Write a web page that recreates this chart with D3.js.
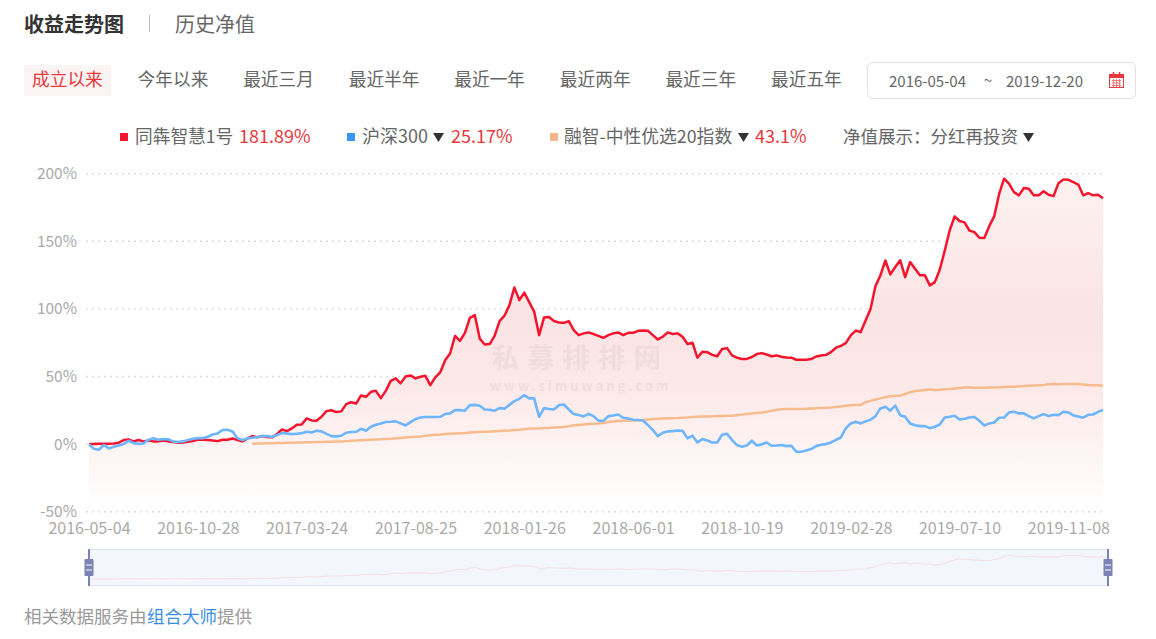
<!DOCTYPE html>
<html><head><meta charset="utf-8">
<script src="https://cdn.jsdelivr.net/npm/d3@7/dist/d3.min.js"></script>
<style>html,body{margin:0;padding:0;background:#fff;overflow:hidden}svg{display:block}text{font-family:"Noto Sans CJK SC","Noto Sans",sans-serif}</style>
</head><body><svg id="c" width="1156" height="639"></svg>
<script>
const navLabels=["成立以来","今年以来","最近三月","最近半年","最近一年","最近两年","最近三年","最近五年"];
const xTickLabels=["2016-05-04","2016-10-28","2017-03-24","2017-08-25","2018-01-26","2018-06-01","2018-10-19","2019-02-28","2019-07-10","2019-11-08"];
const yTickValues=[-50,0,50,100,150,200];
const fundName="同犇智慧1号", indexName="沪深300", blendName="融智-中性优选20指数";
const fundReturn="181.89%", indexReturn="25.17%", blendReturn="43.1%";
const fundValues=[0,0,0.3,0.3,0.3,0.5,1,3,3.5,2,
3,2,2.7,2,2,2.7,2,1.5,1,1.2,
1.7,2.2,3.4,3.2,3,2.7,2.2,3.2,3.2,4.2,
3,2,4,6,5,6,5.2,5,7.4,10.8,
9.6,11.6,14.3,14.5,19,17.5,17.3,20.2,24.4,25,
23.7,24.2,29.6,31,30,36,35,38.7,39.4,34,
39.4,46.8,48.6,44.9,50,50.8,48.6,49.8,50.5,43.6,
49.3,53,62,67,80,76.4,82.3,93.4,95.4,78,
73.7,74,80,91,95,102.8,115.9,106.5,112,105,
98,80.6,93.7,94,91,90,89.7,91,84.3,80.6,
81.9,82.6,81.4,80,78.6,80.6,81.9,82.6,80.6,82.3,
82.3,83.8,84,83.8,80.6,77.4,79.4,82.6,81.4,81.9,
79.4,74,75,64,68.3,68,66,65,70.3,71,
65.6,63.9,63,63,64.4,66.6,67.3,66.3,65,65.6,
64.6,64,63.9,62.4,62.4,62.4,62.9,64.8,65.6,66,
68,71.3,72.7,74.7,80.4,84,82.8,91.5,100,117,
124.8,135.8,125.5,131,136,123.5,134.6,129.7,124.8,124.8,
117.4,119.8,129,143,158,168.4,165,164,158,156.8,
152.6,152.4,161.2,168.4,185,196.3,192.6,186.4,184,189.4,
188.9,184,184,187,184.4,183.4,193,195.8,195.5,193.8,
192,184,185.6,184,184.4,181.9];
const indexValues=[0,-3.5,-4.2,-0.7,-3.2,-2,-1,0,2.5,0.7,
0.2,0.5,3,4.4,3.2,3.7,3.6,2,1.5,2,
3,4,4.4,4.4,5.4,7.1,7.9,10.4,10.6,9.4,
4.4,3,4.2,4.7,5.2,5.9,5.9,5.4,6.7,8.1,
7.9,7.4,7.6,8.1,9.1,8.6,9.9,9.4,7.6,5.9,
5.7,6.2,8.4,8.9,9.1,11.3,9.9,12.8,14.3,15.3,
16.3,16.5,16.8,15.3,13.8,16.3,18.5,19.7,20,20,
20,20.2,22.2,22.7,25.1,25.1,24.7,28.8,29,28.4,
25.6,25.4,24.7,26.6,26.1,29,31.8,33.5,36.2,33.8,
33.8,20.2,26.6,26,25.6,28.8,29.3,25.6,22.2,21.5,
20.5,22.4,20.7,17.3,17.3,20.7,21.2,21.9,19.5,19,
18,17.8,17.5,14,10.4,5.9,8.4,9.4,9.6,10.1,
9.9,4.2,6.2,1.2,3.7,2.7,1.2,1.2,6.9,7.6,
3,-0.7,-2,-1,2.5,-1,-0.2,1.2,-1.2,-1,
-0.7,-1.5,-1.2,-5.7,-5.7,-4.7,-3.7,-1.5,-0.5,0,
1.2,3.2,4.9,11.6,15.3,16.5,15.3,16.8,18,20.7,
26.4,27.6,24.7,28.4,21.4,20.2,15.3,14,13.3,13.3,
11.8,12.8,14.5,19.7,20.2,21,18.2,18.7,19.7,20,
17.3,13.8,15.3,16,19.5,19.7,23.4,23.9,22.7,22.7,
20.7,19,20.7,22.2,20.7,21.7,21.4,23.9,23.4,21.2,
20.5,19.5,21.7,21.9,23.9,25.17];
const blendStartIndex=33;
const blendValues=[0.3,0.4,0.5,0.6,0.7,0.8,0.9,1,1,1.1,
1.2,1.3,1.4,1.5,1.6,1.7,1.8,1.9,2,2.2,
2.4,2.6,2.8,3,3.2,3.4,3.5,
3.8,4,4.3,4.6,4.9,5.2,5.4,5.7,6.1,6.5,6.9,
7.1,7.4,7.6,7.8,8,8.2,8.5,8.7,8.9,9.1,
9.2,9.5,9.6,9.8,10,10.4,10.6,11,11.3,11.6,
11.7,11.9,12,12.2,12.4,12.6,13.2,13.9,14.2,14.5,
14.8,15.1,15.3,15.6,16.3,16.7,17,17.2,17.3,17.4,
17.6,17.8,18.2,18.5,18.8,19,19.1,19.2,19.3,19.5,
19.7,20,20.2,20.4,20.5,20.6,20.7,20.8,20.9,21,
21.4,21.8,22.2,22.6,23,23.4,24,24.6,25.4,25.8,
25.9,25.9,25.9,26,26.2,26.4,26.5,26.7,26.9,27,
27.4,27.8,28.4,28.7,28.9,29,31,32,33,33.8,
34.6,35.4,35.8,36,37,38.4,39.2,39.6,40,40.4,
40,40.2,40.5,40.8,41.2,41.5,41.8,41.9,41.7,41.6,
41.7,41.8,41.9,42.1,42.3,42.4,42.5,42.7,42.9,43.2,
43.4,43.6,43.8,44.2,44.4,44.3,44.4,44.4,44.4,44.4,
44,43.7,43.6,43.5,43.1];

const svg=d3.select("#c");
const txt=(x,y,s,size,fill,opt={})=>svg.append("text").attr("x",x).attr("y",y-2).attr("font-size",size).attr("fill",fill).attr("dominant-baseline","central").attr("text-anchor",opt.anchor||"start").attr("font-weight",opt.weight||400).text(s);
const tri=(x,y)=>svg.append("path").attr("d",`M${x},${y-4}h11l-5.5,9z`).attr("fill","#333");

// header
txt(24,25,"收益走势图",20,"#333",{weight:700});
svg.append("rect").attr("x",149).attr("y",15).attr("width",1).attr("height",17).attr("fill","#bbb");
txt(175,25,"历史净值",20,"#666");
svg.append("rect").attr("x",24).attr("y",65).attr("width",87).attr("height",31).attr("rx",2).attr("fill","#fbf4f4");
const navX=d3.scalePoint().domain(navLabels).range([32,771]);
navLabels.forEach((n,i)=>txt(navX(n),80,n,17.7,i===0?"#e8383c":"#666"));
svg.append("rect").attr("x",867.5).attr("y",62.5).attr("width",268).attr("height",36).attr("rx",5).attr("fill","#fff").attr("stroke","#dfe0ea");
txt(927.5,82,"2016-05-04",15,"#666",{anchor:"middle"});
txt(988,81,"~",15,"#666",{anchor:"middle"});
txt(1044.5,82,"2019-12-20",15,"#666",{anchor:"middle"});
// calendar icon
const cal=svg.append("g").attr("fill","none").attr("stroke","#e8383c");
cal.append("rect").attr("x",1109.5).attr("y",74.5).attr("width",14).attr("height",13);
cal.append("rect").attr("x",1109.5).attr("y",74.5).attr("width",14).attr("height",3).attr("fill","#e8383c");
cal.append("path").attr("d","M1113.5,72v3M1119.5,72v3").attr("stroke-width",1.5);
cal.append("path").attr("d","M1112,80.5h9M1112,83h9M1112,85.5h9M1113.5,79v8M1116.5,79v8M1119.5,79v8").attr("stroke-width",1).attr("stroke","#ee7a7d");

// legend
const sq=(x,c)=>svg.append("rect").attr("x",x).attr("y",133).attr("width",8).attr("height",8).attr("fill",c);
sq(120,"#f5142e"); txt(135,137,fundName,17.7,"#666"); txt(239,137,fundReturn,18,"#e8383c");
sq(347,"#3a96f5"); txt(362,137,indexName,18,"#666"); tri(433,137); txt(451,137,indexReturn,18,"#e8383c");
sq(550,"#f4b68a"); txt(564,137,blendName,17.8,"#666"); tri(738,137); txt(755,137,blendReturn,18,"#e8383c");
txt(843,137,"净值展示：分红再投资",17.5,"#666"); tri(1023,137);

// scales
const n=fundValues.length;
const x=d3.scaleLinear().domain([0,n-1]).range([89,1103]);
const y=d3.scaleLinear().domain([-50,200]).range([511.7,173.7]);

// gradient
const defs=svg.append("defs");
const g=defs.append("linearGradient").attr("id","fill").attr("gradientUnits","userSpaceOnUse").attr("x1",0).attr("x2",0).attr("y1",y(200)).attr("y2",y(-47));
[[0,"#fcf2f1"],[0.42,"#fae4e3"],[0.62,"#fbe8e7"],[0.8,"#fdf2f1"],[1,"#ffffff"]].forEach(s=>g.append("stop").attr("offset",s[0]).attr("stop-color",s[1]));

// grid + y axis
const yAxis=d3.axisLeft(y).tickValues(yTickValues).tickFormat(d=>d+"%").tickSize(0).tickPadding(0);
const yG=svg.append("g").attr("transform","translate(77,-2)").call(yAxis);
yG.select(".domain").remove();
yG.selectAll("text").attr("font-size",15.5).attr("fill","#aaa").attr("dy",0).attr("dominant-baseline","central");
svg.append("g").selectAll("line").data(yTickValues).join("line")
 .attr("x1",86).attr("x2",1104).attr("y1",d=>y(d)).attr("y2",d=>y(d))
 .attr("stroke","#dcdcdc").attr("stroke-width",1.4).attr("stroke-dasharray","2 4");

// area and lines
const area=d3.area().x((d,i)=>x(i)).y0(y(-47)).y1(d=>y(d));
svg.append("path").datum(fundValues).attr("d",area).attr("fill","url(#fill)");

// watermark
txt(580.5,358,"私募排排网",27,"#000",{anchor:"middle",weight:700}).attr("opacity",0.04).attr("letter-spacing",8.5);
txt(580.5,387.5,"www.simuwang.com",13,"#000",{anchor:"middle",weight:700}).attr("opacity",0.045).attr("letter-spacing",3);

const line=d3.line().x((d,i)=>x(i)).y(d=>y(d));
const blendLine=d3.line().x((d,i)=>x(i+blendStartIndex)).y(d=>y(d));
svg.append("path").datum(blendValues).attr("d",blendLine).attr("fill","none").attr("stroke","#f6bc8e").attr("stroke-width",2.5).attr("stroke-linejoin","round");
svg.append("path").datum(fundValues).attr("d",line).attr("fill","none").attr("stroke","#f5142e").attr("stroke-width",2.5).attr("stroke-linejoin","round");
svg.append("path").datum(indexValues).attr("d",line).attr("fill","none").attr("stroke","#6db5fd").attr("stroke-width",2.6).attr("stroke-linejoin","round");

// x axis
const xAxis=d3.axisBottom(x).tickValues(xTickLabels.map((d,i)=>i*22)).tickFormat((d,i)=>xTickLabels[i]).tickSize(0).tickPadding(0);
const xG=svg.append("g").attr("transform","translate(0,526.5)").call(xAxis);
xG.select(".domain").remove();
xG.selectAll("text").attr("font-size",16).attr("fill","#aaa").attr("dy",0).attr("y",0).attr("dominant-baseline","central");

// slider
svg.append("rect").attr("x",89).attr("y",549.5).attr("width",1019).attr("height",36).attr("fill","#f3f7fd").attr("stroke","#dfe2ea");
const mx=d3.scaleLinear().domain([0,n-1]).range([89,1108]);
const my=d3.scaleLinear().domain([0,200]).range([579,555]);
svg.append("path").datum(fundValues).attr("d",d3.line().x((d,i)=>mx(i)).y(d=>my(d))).attr("fill","none").attr("stroke","#f2dfe3").attr("stroke-width",1);
[89,1108].forEach(h=>{
 svg.append("rect").attr("x",h-1).attr("y",549).attr("width",2).attr("height",37).attr("fill","#7a83b3");
 svg.append("rect").attr("x",h-4.5).attr("y",559).attr("width",9).attr("height",17).attr("rx",1).attr("fill","#7a83b3");
 svg.append("path").attr("d",`M${h-3},565h6M${h-3},570h6`).attr("stroke","#fff").attr("stroke-width",1);
});

// footer
txt(24,617,"相关数据服务由",17.5,"#999");
txt(147,617,"组合大师",17.5,"#3a8ee6");
txt(217,617,"提供",17.5,"#999");
</script></body></html>
